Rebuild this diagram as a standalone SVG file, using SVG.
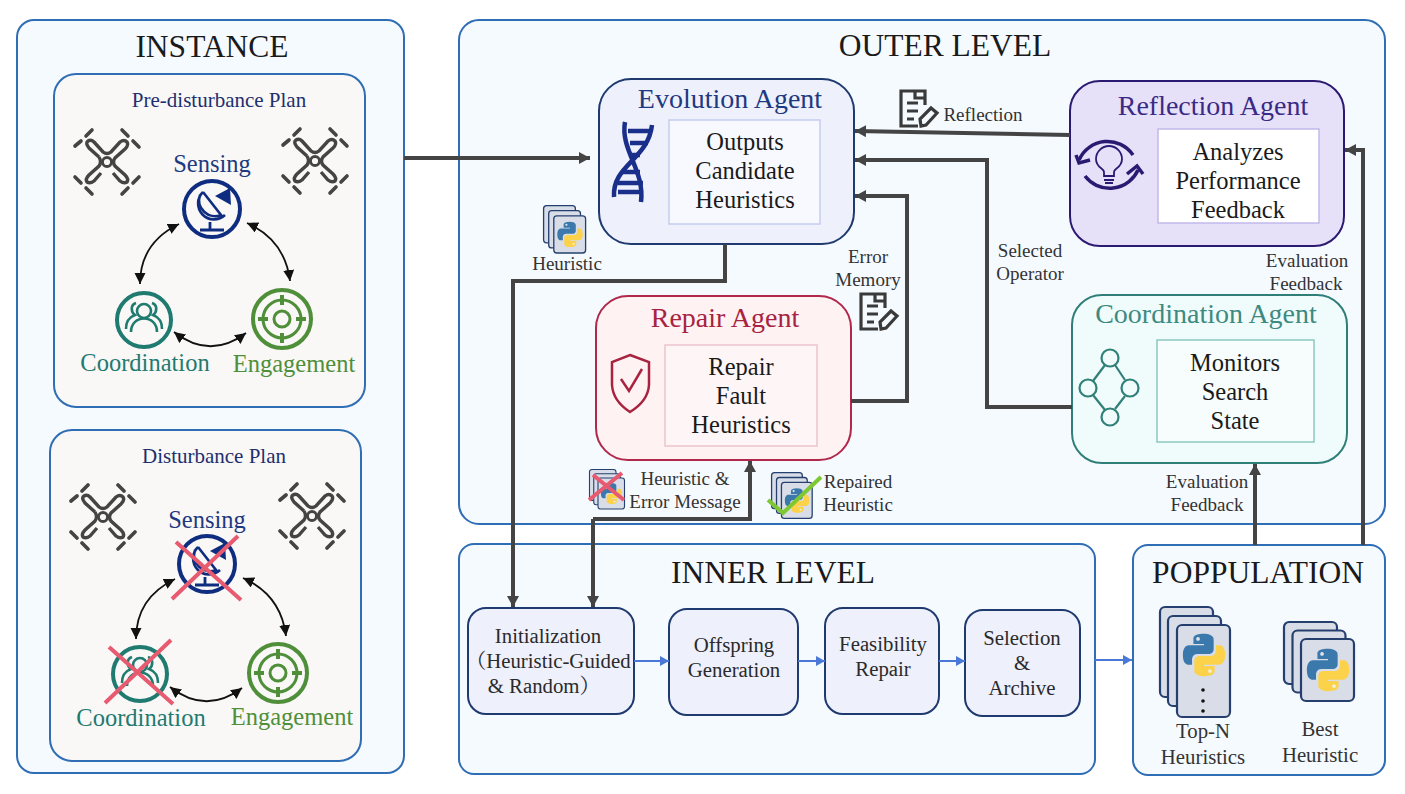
<svg xmlns="http://www.w3.org/2000/svg" width="1405" height="794" viewBox="0 0 1405 794">
<style>
text{font-family:"Liberation Serif","Noto Serif CJK SC","Noto Sans CJK SC",serif;text-anchor:middle;fill:#1a1a1a}
.panel{fill:#f5faff;stroke:#2f6db5;stroke-width:2}
.plan{fill:#f9f8f6;stroke:#2f6db5;stroke-width:2}
.h1{font-size:31.500px}
.plant{font-size:21px;fill:#1e2f6e}
.cap{font-size:24.500px}
.atitle{font-size:28px}
.body{font-size:24.500px}
.small{font-size:19px;fill:#333}
.step{font-size:20.800px;fill:#2a2a2a}
.conn{fill:none;stroke:#444;stroke-width:4;marker-end:url(#ah)}
.blue{fill:none;stroke:#4a78d8;stroke-width:2;marker-end:url(#bh)}
.cyc{fill:none;stroke:#111;stroke-width:1.800;marker-start:url(#kh);marker-end:url(#kh)}
.x{stroke:#e85a70;stroke-width:4;fill:none}
.card{fill:#d9dde8;stroke:#25406e;stroke-width:2.200}
</style>
<defs>
<marker id="ah" markerUnits="userSpaceOnUse" markerWidth="14" markerHeight="14" refX="11" refY="6" orient="auto"><path d="M0,0L11,6L0,12Z" fill="#444"/></marker>
<marker id="bh" markerUnits="userSpaceOnUse" markerWidth="11" markerHeight="12" refX="9" refY="5" orient="auto"><path d="M0,0L9,5L0,10Z" fill="#4a78d8"/></marker>
<marker id="kh" markerUnits="userSpaceOnUse" markerWidth="14" markerHeight="12" refX="11" refY="5.500" orient="auto-start-reverse"><path d="M0,0L11,5.500L0,11Z" fill="#111"/></marker>
<g id="py">
<path d="M49,4C25,4 27,15 27,15V26H50V29H18C18,29 4,28 4,50C4,72 16,71 16,71H24V60C24,60 24,48 36,48H60C60,48 71,48 71,37V17C71,17 73,4 49,4Z" fill="#3b78ab"/>
<circle cx="37" cy="15" r="4" fill="#dfe6f0"/>
<path d="M51,96C75,96 73,85 73,85V74H50V71H82C82,71 96,72 96,50C96,28 84,29 84,29H76V40C76,40 76,52 64,52H40C40,52 29,52 29,63V83C29,83 27,96 51,96Z" fill="#fbd24a"/>
<circle cx="63" cy="85" r="4" fill="#f3f0d8"/>
</g>
<g id="stack">
<rect class="card" x="1" y="1" width="53" height="62" rx="5"/>
<rect class="card" x="9.500" y="9.500" width="53" height="62" rx="5"/>
<rect class="card" x="18" y="18" width="53" height="62" rx="5"/>
<use href="#py" transform="translate(22,26) scale(.46)"/>
</g>
<g id="drone" fill="none" stroke="#444">
<path d="M-8,-5L-18,-14Q-22,-19 -19,-21Q-16,-23 -13,-20L-4,-10Q0,-7 4,-10L13,-20Q17,-23 20,-20Q22,-17 18,-13L8,-4Q5,0 8,4L18,13Q22,17 20,20Q17,22 13,19L6,11M-6,11L-13,19Q-17,22 -20,20Q-22,17 -18,13L-8,4Q-5,0 -8,-5" stroke-width="3.400"/>
<circle r="4.500" stroke-width="2.800"/>
<path d="M-32,-16L-26,-21M-21,-26L-15,-32M15,-32L21,-26M26,-21L32,-15M-32,15L-26,21M-21,26L-15,32M15,32L21,26M26,21L32,15" stroke-width="3.600" stroke-linecap="round"/>
</g>
<g id="doc" fill="none" stroke="#3a3a3a" stroke-width="3.200">
<path d="M27,17V3H3V38H20M17,2V10H28"/>
<path d="M9,15H20M9,23H20M9,31H16"/>
<path d="M23,38L22,31L33,20L39,25L28,37Z"/>
</g>
<g id="sensingIcon" fill="none" stroke="#0f2d80">
<circle r="28" stroke-width="4"/>
<path d="M-9,-17A15,15 0 1 0 13,6M-12,-14A16,16 0 0 0 9,6L-9,-17" stroke-width="2.600"/>
<path d="M3,-13L18,-21L19,-4Z" fill="#0f2d80" stroke="none"/>
<path d="M-2,13V21M-12,21H12" stroke-width="2.800"/>
</g>
<g id="coordIcon" fill="none" stroke="#1f7a70">
<circle r="27" stroke-width="4"/>
<circle cy="-9" r="7" stroke-width="2.600"/>
<path d="M-13,12C-13,-6 13,-6 13,12M-18,9C-18,0 -14,-3 -9,-5C-13,-8 -14,-15 -8,-17M18,9C18,0 14,-3 9,-5C13,-8 14,-15 8,-17" stroke-width="2.600"/>
</g>
<g id="engageIcon" fill="none" stroke="#4f8f3a">
<circle r="29" stroke-width="4"/>
<circle r="19" stroke-width="3"/>
<circle r="8" stroke-width="3"/>
<path d="M0,-24V-14M0,14V24M-24,0H-14M14,0H24" stroke-width="4"/>
</g>
</defs>
<rect width="1405" height="794" fill="#fff"/>
<g id="instance">
<rect class="panel" x="17" y="20" width="387" height="753" rx="17"/>
<text class="h1" x="212" y="57">INSTANCE</text>
</g>
<g id="outer-level">
<rect class="panel" x="459" y="20" width="926" height="504" rx="20"/>
<text class="h1" x="945" y="56">OUTER LEVEL</text>
</g>
<g id="inner-level">
<rect class="panel" x="459" y="544" width="636" height="230" rx="15"/>
<text class="h1" x="773" y="583">INNER LEVEL</text>
</g>
<g id="population">
<rect class="panel" x="1133" y="545" width="252" height="230" rx="15"/>
<text class="h1" x="1258" y="583">POPPULATION</text>
</g>
<g id="pre-disturbance-plan">
<rect class="plan" x="54" y="74" width="311" height="333" rx="22"/>
<text class="plant" x="219" y="107">Pre-disturbance Plan</text>
<use href="#drone" x="107" y="162"/>
<use href="#drone" x="315" y="161"/>
<text class="cap" x="212" y="172" style="fill:#1e3a80">Sensing</text>
<use href="#sensingIcon" x="212" y="209"/>
<use href="#coordIcon" x="144" y="320"/>
<use href="#engageIcon" x="282" y="319"/>
<text class="cap" x="145" y="371" style="fill:#1f7a70">Coordination</text>
<text class="cap" x="294" y="372" style="fill:#4f8f3a">Engagement</text>
<path class="cyc" d="M179,224Q140,243 140,284"/>
<path class="cyc" d="M247,223Q285,240 290,281"/>
<path class="cyc" d="M174,332Q210,360 246,333"/>
</g>
<g id="disturbance-plan">
<rect class="plan" x="50" y="430" width="311" height="331" rx="22"/>
<text class="plant" x="214" y="463">Disturbance Plan</text>
<use href="#drone" x="103" y="517"/>
<use href="#drone" x="312" y="516"/>
<text class="cap" x="207" y="528" style="fill:#1e3a80">Sensing</text>
<use href="#sensingIcon" x="207" y="564"/>
<use href="#coordIcon" x="140" y="674"/>
<use href="#engageIcon" x="278" y="673"/>
<text class="cap" x="141" y="726" style="fill:#1f7a70">Coordination</text>
<text class="cap" x="292" y="725" style="fill:#4f8f3a">Engagement</text>
<path class="cyc" d="M175,579Q136,598 136,639"/>
<path class="cyc" d="M243,578Q281,595 286,636"/>
<path class="cyc" d="M170,687Q206,715 242,688"/>
<path class="x" d="M176,542L241,600M238,536L172,599M109,647L173,704M171,640L105,703"/>
</g>
<g id="evolution-agent">
<rect x="599" y="79" width="255" height="165" rx="32" fill="#eef0fc" stroke="#1f3a6e" stroke-width="2"/>
<text class="atitle" x="730" y="108" style="fill:#1e3a80">Evolution Agent</text>
<rect x="669" y="120" width="151" height="104" fill="#f8f9ff" stroke="#c5cdf0" stroke-width="1.500"/>
<text class="body" x="745" y="150">Outputs</text>
<text class="body" x="745" y="179">Candidate</text>
<text class="body" x="745" y="208">Heuristics</text>
<g fill="none" stroke="#1a2f8a">
<path d="M625,122C620,150 645,170 641,202M652,125C648,160 612,165 614,197" stroke-width="4.500"/>
<path d="M628,131H650M630,143H648M630,155H640M622,172H640M618,183H643M618,192H641" stroke-width="4.500"/>
</g>
</g>
<g id="repair-agent">
<rect x="596" y="296" width="255" height="164" rx="32" fill="#fef2f3" stroke="#b0284a" stroke-width="2"/>
<text class="atitle" x="725" y="327" style="fill:#a8233f">Repair Agent</text>
<rect x="665" y="345" width="152" height="101" fill="#fef5f7" stroke="#ecc3cd" stroke-width="1.500"/>
<text class="body" x="741" y="375">Repair</text>
<text class="body" x="741" y="404">Fault</text>
<text class="body" x="741" y="433">Heuristics</text>
<path d="M630,355L649,362V385Q648,401 630,412Q613,401 612,385V362Z" fill="none" stroke="#a8233f" stroke-width="2.500"/>
<path d="M621,379L629,391L642,369" fill="none" stroke="#a8233f" stroke-width="2.500"/>
</g>
<g id="reflection-agent">
<rect x="1070" y="81" width="274" height="165" rx="30" fill="#e6e1f9" stroke="#2c1a72" stroke-width="2"/>
<text class="atitle" x="1213" y="115" style="fill:#3a2a85">Reflection Agent</text>
<rect x="1158" y="129" width="161" height="94" fill="#fff" stroke="#c2b9ec" stroke-width="1.500"/>
<text class="body" x="1238" y="160">Analyzes</text>
<text class="body" x="1238" y="189">Performance</text>
<text class="body" x="1238" y="218">Feedback</text>
<g fill="none" stroke="#2c1a72">
<path d="M1079,160A31,31 0 0 1 1133,155M1085,176A31,31 0 0 0 1138,170" stroke-width="3.500"/>
<path d="M1076,155L1079,163L1090,160M1127,174L1137,166L1143,174" stroke-width="3.500"/>
<path d="M1104,176V172C1104,168 1096,168 1096,159A13,13 0 1 1 1122,159C1122,168 1114,168 1114,172V176H1104ZM1104,180H1114M1105,183H1113" stroke-width="1.800"/>
</g>
</g>
<g id="coordination-agent">
<rect x="1072" y="295" width="275" height="168" rx="30" fill="#f0fbfb" stroke="#2f7f78" stroke-width="2"/>
<text class="atitle" x="1206" y="323" style="fill:#3c8a80">Coordination Agent</text>
<rect x="1157" y="340" width="157" height="102" fill="#f7fdfd" stroke="#8cc7c1" stroke-width="1.500"/>
<text class="body" x="1235" y="371">Monitors</text>
<text class="body" x="1235" y="400">Search</text>
<text class="body" x="1235" y="429">State</text>
<g fill="none" stroke="#2f8078" stroke-width="2.200">
<circle cx="1110" cy="358" r="8.500"/><circle cx="1088" cy="388" r="8.500"/><circle cx="1130" cy="388" r="8.500"/><circle cx="1110" cy="417" r="8.500"/>
<path d="M1105,365L1093,381M1115,365L1125,380M1093,395L1105,410M1125,396L1115,409"/>
</g>
</g>
<g id="init">
<rect x="468" y="608" width="166" height="106" rx="18" fill="#eef0fc" stroke="#1f3a6e" stroke-width="2"/>
<text class="step" x="548" y="643">Initialization</text>
<text class="step" x="548" y="668">（Heuristic-Guided</text>
<text class="step" x="544" y="693">&amp; Random）</text>
</g>
<g id="offspring">
<rect x="669" y="609" width="129" height="106" rx="18" fill="#eef0fc" stroke="#1f3a6e" stroke-width="2"/>
<text class="step" x="734" y="652">Offspring</text>
<text class="step" x="734" y="677">Generation</text>
</g>
<g id="feasibility">
<rect x="825" y="608" width="114" height="106" rx="18" fill="#eef0fc" stroke="#1f3a6e" stroke-width="2"/>
<text class="step" x="883" y="651">Feasibility</text>
<text class="step" x="883" y="676">Repair</text>
</g>
<g id="selection">
<rect x="965" y="610" width="115" height="106" rx="18" fill="#eef0fc" stroke="#1f3a6e" stroke-width="2"/>
<text class="step" x="1022" y="645">Selection</text>
<text class="step" x="1022" y="670">&amp;</text>
<text class="step" x="1022" y="695">Archive</text>
</g>
<g id="connectors">
<path class="conn" d="M404,158H590"/>
<path class="conn" d="M1070,135L855,131"/>
<path class="conn" d="M1072,407H987V160H855"/>
<path class="conn" d="M851,401H907V196H855"/>
<path class="conn" d="M725,244V281H513V607"/>
<path class="conn" d="M593,519H750V461"/>
<path class="conn" d="M593,519V607"/>
<path class="conn" d="M1255,545V464"/>
<path class="conn" d="M1363,545V150H1345"/>
<path class="blue" d="M634,661H669"/>
<path class="blue" d="M798,661H825"/>
<path class="blue" d="M939,661H965"/>
<path class="blue" d="M1095,660H1132"/>
</g>
<g id="labels">
<use href="#stack" transform="translate(543,205) scale(.6)"/>
<text class="small" x="567" y="270">Heuristic</text>
<use href="#doc" x="898" y="88"/>
<text class="small" x="983" y="121">Reflection</text>
<text class="small" x="868" y="263">Error</text>
<text class="small" x="868" y="286">Memory</text>
<use href="#doc" x="858" y="291"/>
<text class="small" x="1030" y="257">Selected</text>
<text class="small" x="1030" y="280">Operator</text>
<text class="small" x="1307" y="267">Evaluation</text>
<text class="small" x="1306" y="290">Feedback</text>
<text class="small" x="1207" y="488">Evaluation</text>
<text class="small" x="1207" y="511">Feedback</text>
<use href="#stack" transform="translate(589,469) scale(.5)"/>
<path class="x" d="M589,500L622,473M593,475L624,500"/>
<text class="small" x="685" y="485">Heuristic &amp;</text>
<text class="small" x="685" y="508">Error Message</text>
<use href="#stack" transform="translate(771,472) scale(.58)"/>
<path d="M768,500L783,513L821,477" fill="none" stroke="#7ec832" stroke-width="4"/>
<text class="small" x="858" y="488">Repaired</text>
<text class="small" x="858" y="511">Heuristic</text>
<g id="top-n">
<rect class="card" x="1160" y="607" width="53" height="90" rx="5"/>
<rect class="card" x="1168" y="616" width="53" height="90" rx="5"/>
<rect class="card" x="1177" y="625" width="53" height="92" rx="5"/>
<use href="#py" transform="translate(1181,632) scale(.46)"/>
<circle cx="1203" cy="690" r="1.800" fill="#111"/><circle cx="1203" cy="701" r="1.800" fill="#111"/><circle cx="1203" cy="711" r="1.800" fill="#111"/>
</g>
<use href="#stack" transform="translate(1283,621)"/>
<text class="small" x="1203" y="738" style="font-size:20.800px">Top-N</text>
<text class="small" x="1203" y="764" style="font-size:20.800px">Heuristics</text>
<text class="small" x="1320" y="736" style="font-size:20.800px">Best</text>
<text class="small" x="1320" y="762" style="font-size:20.800px">Heuristic</text>
</g>
</svg>
